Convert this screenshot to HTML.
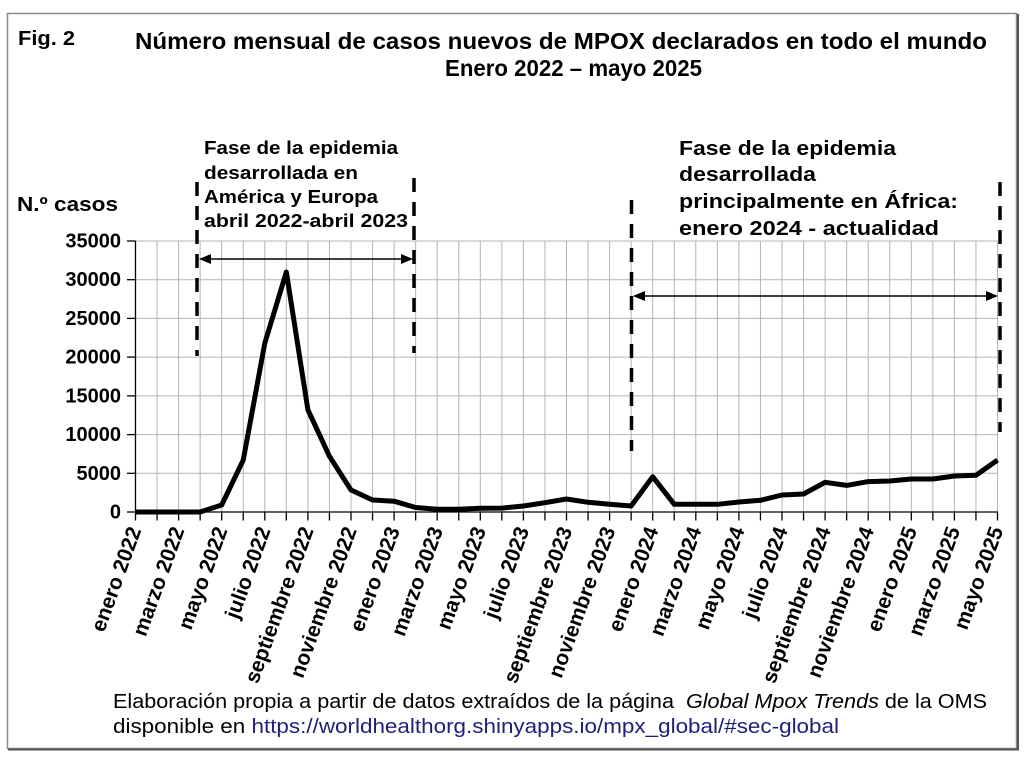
<!DOCTYPE html>
<html>
<head>
<meta charset="utf-8">
<style>
html,body{margin:0;padding:0;background:#fff;}
svg{display:block;}
text{font-family:"Liberation Sans",Arial,sans-serif;fill:#000;}
.b{font-weight:bold;}
</style>
</head>
<body>
<svg width="1028" height="760" viewBox="0 0 1028 760" xmlns="http://www.w3.org/2000/svg">
<rect x="0" y="0" width="1028" height="760" fill="#fff"/>
<!-- frame -->
<rect x="7.5" y="13.5" width="1009" height="735" fill="none" stroke="#8a8a8a" stroke-width="1.5"/>
<line x1="1018" y1="14" x2="1018" y2="750" stroke="#555" stroke-width="2"/>
<line x1="8" y1="749.5" x2="1019" y2="749.5" stroke="#555" stroke-width="2"/>

<!-- titles -->
<text class="b" x="18" y="45" font-size="20" textLength="57" lengthAdjust="spacingAndGlyphs">Fig. 2</text>
<text class="b" x="135" y="49" font-size="23" textLength="852" lengthAdjust="spacingAndGlyphs">Número mensual de casos nuevos de MPOX declarados en todo el mundo</text>
<text class="b" x="445" y="76" font-size="23" textLength="257" lengthAdjust="spacingAndGlyphs">Enero 2022 – mayo 2025</text>
<text class="b" x="17" y="211" font-size="20" textLength="101" lengthAdjust="spacingAndGlyphs">N.º casos</text>

<!-- annotation 1 -->
<text class="b" x="204" y="154" font-size="18" textLength="194" lengthAdjust="spacingAndGlyphs">Fase de la epidemia</text>
<text class="b" x="204" y="179" font-size="18" textLength="154" lengthAdjust="spacingAndGlyphs">desarrollada en</text>
<text class="b" x="204" y="203" font-size="18" textLength="174" lengthAdjust="spacingAndGlyphs">América y Europa</text>
<text class="b" x="204" y="227" font-size="18" textLength="204" lengthAdjust="spacingAndGlyphs">abril 2022-abril 2023</text>

<!-- annotation 2 -->
<text class="b" x="679" y="155" font-size="20" textLength="217" lengthAdjust="spacingAndGlyphs">Fase de la epidemia</text>
<text class="b" x="679" y="181" font-size="20" textLength="137" lengthAdjust="spacingAndGlyphs">desarrollada</text>
<text class="b" x="679" y="208" font-size="20" textLength="279" lengthAdjust="spacingAndGlyphs">principalmente en África:</text>
<text class="b" x="679" y="235" font-size="20" textLength="260" lengthAdjust="spacingAndGlyphs">enero 2024 - actualidad</text>

<!-- gridlines -->
<g stroke="#b4b4b4" stroke-width="1">
<line x1="135.5" y1="241" x2="997.5" y2="241"/>
<line x1="135.5" y1="279.7" x2="997.5" y2="279.7"/>
<line x1="135.5" y1="318.4" x2="997.5" y2="318.4"/>
<line x1="135.5" y1="357.1" x2="997.5" y2="357.1"/>
<line x1="135.5" y1="395.9" x2="997.5" y2="395.9"/>
<line x1="135.5" y1="434.6" x2="997.5" y2="434.6"/>
<line x1="135.5" y1="473.3" x2="997.5" y2="473.3"/>
<line x1="157.05" y1="241" x2="157.05" y2="512"/>
<line x1="178.6" y1="241" x2="178.6" y2="512"/>
<line x1="200.15" y1="241" x2="200.15" y2="512"/>
<line x1="221.7" y1="241" x2="221.7" y2="512"/>
<line x1="243.25" y1="241" x2="243.25" y2="512"/>
<line x1="264.8" y1="241" x2="264.8" y2="512"/>
<line x1="286.35" y1="241" x2="286.35" y2="512"/>
<line x1="307.9" y1="241" x2="307.9" y2="512"/>
<line x1="329.45" y1="241" x2="329.45" y2="512"/>
<line x1="351" y1="241" x2="351" y2="512"/>
<line x1="372.55" y1="241" x2="372.55" y2="512"/>
<line x1="394.1" y1="241" x2="394.1" y2="512"/>
<line x1="415.65" y1="241" x2="415.65" y2="512"/>
<line x1="437.2" y1="241" x2="437.2" y2="512"/>
<line x1="458.75" y1="241" x2="458.75" y2="512"/>
<line x1="480.3" y1="241" x2="480.3" y2="512"/>
<line x1="501.85" y1="241" x2="501.85" y2="512"/>
<line x1="523.4" y1="241" x2="523.4" y2="512"/>
<line x1="544.95" y1="241" x2="544.95" y2="512"/>
<line x1="566.5" y1="241" x2="566.5" y2="512"/>
<line x1="588.05" y1="241" x2="588.05" y2="512"/>
<line x1="609.6" y1="241" x2="609.6" y2="512"/>
<line x1="631.15" y1="241" x2="631.15" y2="512"/>
<line x1="652.7" y1="241" x2="652.7" y2="512"/>
<line x1="674.25" y1="241" x2="674.25" y2="512"/>
<line x1="695.8" y1="241" x2="695.8" y2="512"/>
<line x1="717.35" y1="241" x2="717.35" y2="512"/>
<line x1="738.9" y1="241" x2="738.9" y2="512"/>
<line x1="760.45" y1="241" x2="760.45" y2="512"/>
<line x1="782" y1="241" x2="782" y2="512"/>
<line x1="803.55" y1="241" x2="803.55" y2="512"/>
<line x1="825.1" y1="241" x2="825.1" y2="512"/>
<line x1="846.65" y1="241" x2="846.65" y2="512"/>
<line x1="868.2" y1="241" x2="868.2" y2="512"/>
<line x1="889.75" y1="241" x2="889.75" y2="512"/>
<line x1="911.3" y1="241" x2="911.3" y2="512"/>
<line x1="932.85" y1="241" x2="932.85" y2="512"/>
<line x1="954.4" y1="241" x2="954.4" y2="512"/>
<line x1="975.95" y1="241" x2="975.95" y2="512"/>
<line x1="997.5" y1="241" x2="997.5" y2="512"/>
</g>

<!-- axes -->
<g stroke="#000" stroke-width="1.3">
<line x1="135.5" y1="241" x2="135.5" y2="512"/>
<line x1="135.5" y1="512" x2="998" y2="512"/>
<line x1="127" y1="241" x2="135.5" y2="241"/>
<line x1="127" y1="279.7" x2="135.5" y2="279.7"/>
<line x1="127" y1="318.4" x2="135.5" y2="318.4"/>
<line x1="127" y1="357.1" x2="135.5" y2="357.1"/>
<line x1="127" y1="395.9" x2="135.5" y2="395.9"/>
<line x1="127" y1="434.6" x2="135.5" y2="434.6"/>
<line x1="127" y1="473.3" x2="135.5" y2="473.3"/>
<line x1="127" y1="512" x2="135.5" y2="512"/>
</g>
<path stroke="#000" stroke-width="1.3" fill="none" d="M135.5 512v8.5M157.05 512v8.5M178.6 512v8.5M200.15 512v8.5M221.7 512v8.5M243.25 512v8.5M264.8 512v8.5M286.35 512v8.5M307.9 512v8.5M329.45 512v8.5M351 512v8.5M372.55 512v8.5M394.1 512v8.5M415.65 512v8.5M437.2 512v8.5M458.75 512v8.5M480.3 512v8.5M501.85 512v8.5M523.4 512v8.5M544.95 512v8.5M566.5 512v8.5M588.05 512v8.5M609.6 512v8.5M631.15 512v8.5M652.7 512v8.5M674.25 512v8.5M695.8 512v8.5M717.35 512v8.5M738.9 512v8.5M760.45 512v8.5M782 512v8.5M803.55 512v8.5M825.1 512v8.5M846.65 512v8.5M868.2 512v8.5M889.75 512v8.5M911.3 512v8.5M932.85 512v8.5M954.4 512v8.5M975.95 512v8.5M997.5 512v8.5"/>

<!-- y tick labels -->
<g font-size="20" text-anchor="end">
<text class="b" x="121" y="247.5">35000</text>
<text class="b" x="121" y="286.2">30000</text>
<text class="b" x="121" y="324.9">25000</text>
<text class="b" x="121" y="363.6">20000</text>
<text class="b" x="121" y="402.4">15000</text>
<text class="b" x="121" y="441.1">10000</text>
<text class="b" x="121" y="479.8">5000</text>
<text class="b" x="121" y="518.5">0</text>
</g>

<!-- x tick labels -->
<g font-size="21" text-anchor="end">
<text class="b" transform="translate(141.5,530) rotate(-70)">enero 2022</text>
<text class="b" transform="translate(184.6,530) rotate(-70)">marzo 2022</text>
<text class="b" transform="translate(227.7,530) rotate(-70)">mayo 2022</text>
<text class="b" transform="translate(270.8,530) rotate(-70)">julio 2022</text>
<text class="b" transform="translate(313.9,530) rotate(-70)">septiembre 2022</text>
<text class="b" transform="translate(357,530) rotate(-70)">noviembre 2022</text>
<text class="b" transform="translate(400.1,530) rotate(-70)">enero 2023</text>
<text class="b" transform="translate(443.2,530) rotate(-70)">marzo 2023</text>
<text class="b" transform="translate(486.3,530) rotate(-70)">mayo 2023</text>
<text class="b" transform="translate(529.4,530) rotate(-70)">julio 2023</text>
<text class="b" transform="translate(572.5,530) rotate(-70)">septiembre 2023</text>
<text class="b" transform="translate(615.6,530) rotate(-70)">noviembre 2023</text>
<text class="b" transform="translate(658.7,530) rotate(-70)">enero 2024</text>
<text class="b" transform="translate(701.8,530) rotate(-70)">marzo 2024</text>
<text class="b" transform="translate(744.9,530) rotate(-70)">mayo 2024</text>
<text class="b" transform="translate(788,530) rotate(-70)">julio 2024</text>
<text class="b" transform="translate(831.1,530) rotate(-70)">septiembre 2024</text>
<text class="b" transform="translate(874.2,530) rotate(-70)">noviembre 2024</text>
<text class="b" transform="translate(917.3,530) rotate(-70)">enero 2025</text>
<text class="b" transform="translate(960.4,530) rotate(-70)">marzo 2025</text>
<text class="b" transform="translate(1003.5,530) rotate(-70)">mayo 2025</text>
</g>

<!-- data line -->
<polyline fill="none" stroke="#000" stroke-width="5" stroke-linejoin="round" stroke-linecap="butt"
points="135.5,512 157.05,512 178.6,512 200.15,512 221.7,505 243.25,460.1 264.8,343.2 286.35,272 307.9,409.8 329.45,456.3 351,490 372.55,500 394.1,501.2 415.65,507.5 437.2,509.3 458.75,509.3 480.3,508.3 501.85,508.1 523.4,506 544.95,502.7 566.5,499 588.05,502.3 609.6,504.3 631.15,506 652.7,476.7 674.25,504.3 695.8,504.3 717.35,504.3 738.9,502 760.45,500.3 782,495 803.55,494 825.1,482.3 846.65,485.4 868.2,481.6 889.75,481 911.3,479 932.85,479 954.4,476 975.95,475.3 997.5,460.1"/>

<!-- dashed phase lines -->
<g stroke="#000" stroke-width="3.5" stroke-dasharray="14 10" fill="none">
<line x1="197" y1="182" x2="197" y2="356"/>
<line x1="414" y1="178" x2="414" y2="353"/>
<line x1="631.5" y1="200" x2="631.5" y2="451"/>
<line x1="1000" y1="182" x2="1000" y2="432"/>
</g>

<!-- arrows -->
<g stroke="#000" stroke-width="1.5">
<line x1="205" y1="259" x2="406" y2="259"/>
<line x1="640" y1="296" x2="991" y2="296"/>
</g>
<g fill="#000">
<polygon points="199,259 211,254 211,264"/>
<polygon points="413,259 401,254 401,264"/>
<polygon points="633,296 645,291 645,301"/>
<polygon points="998,296 986,291 986,301"/>
</g>

<!-- footer -->
<text x="113" y="708" font-size="20" textLength="874" lengthAdjust="spacingAndGlyphs">Elaboración propia a partir de datos extraídos de la página&#160; <tspan font-style="italic">Global Mpox Trends</tspan> de la OMS</text>
<text x="113" y="733" font-size="20" textLength="726" lengthAdjust="spacingAndGlyphs">disponible en <tspan fill="#1f1f7a">https://worldhealthorg.shinyapps.io/mpx_global/#sec-global</tspan></text>
</svg>
</body>
</html>
